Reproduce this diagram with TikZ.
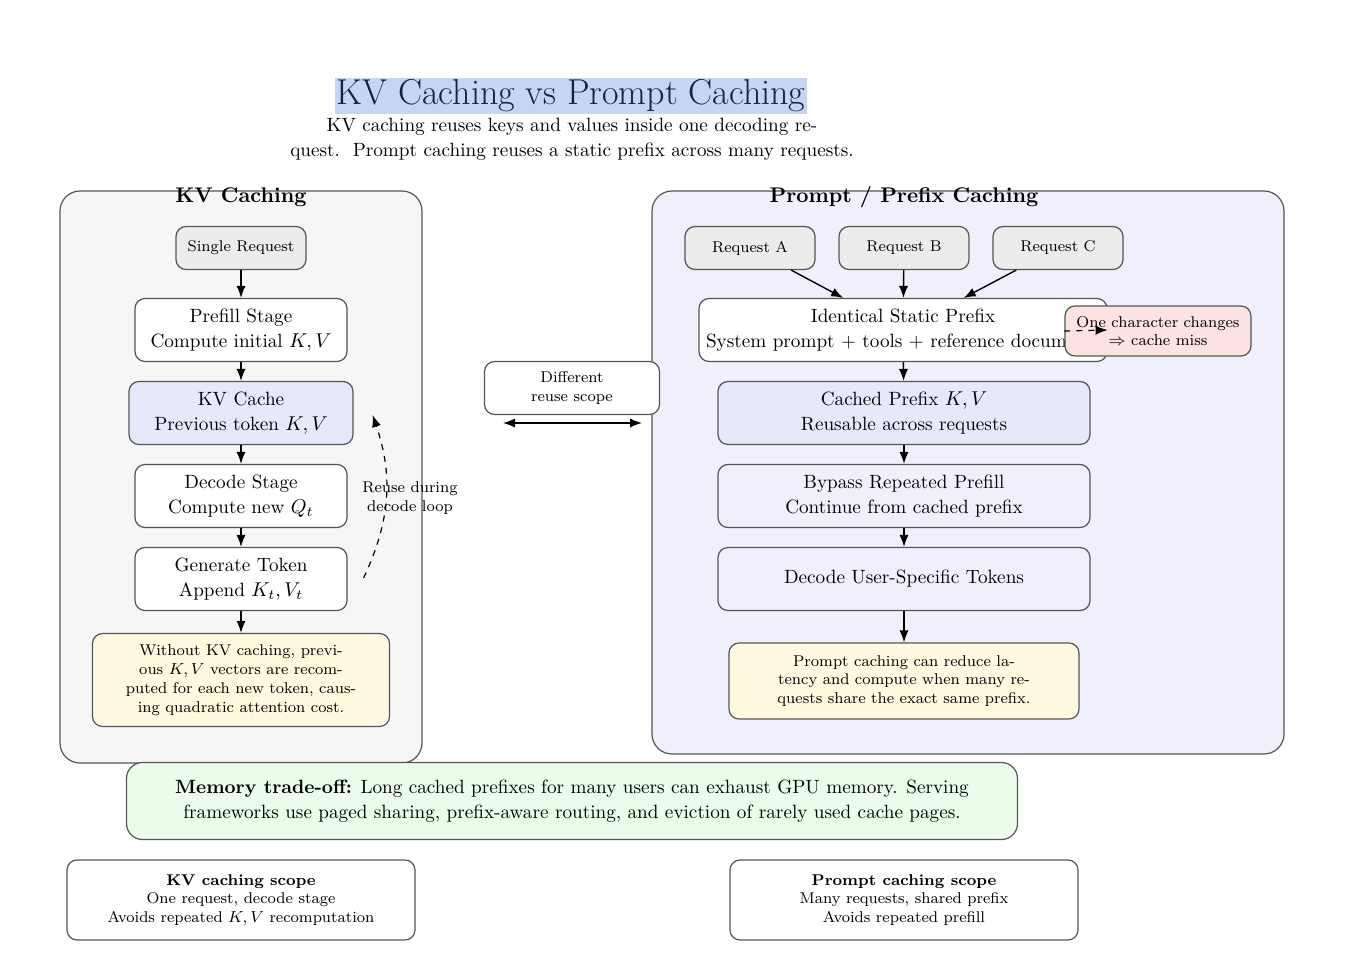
\documentclass[tikz,border=0pt]{standalone}
\usetikzlibrary{arrows.meta}
\definecolor{panelL}{HTML}{F6F6F6}
\definecolor{panelR}{HTML}{F0F0FC}
\definecolor{reqfill}{HTML}{ECECEC}
\definecolor{kvfill}{HTML}{E8E8FB}
\definecolor{notefill}{HTML}{FFFADF}
\definecolor{redfill}{HTML}{FDE2E2}
\definecolor{greenfill}{HTML}{EBFDEA}
\definecolor{hilite}{HTML}{C3D7F5}
\definecolor{titlecol}{HTML}{15233F}
\definecolor{edgecol}{HTML}{555555}
\newcommand\bodyfont{\fontsize{9.6}{12.5}\selectfont}
\newcommand\notefont{\fontsize{7.8}{9.4}\selectfont}
\tikzset{
  panel/.style={draw=edgecol, line width=0.6pt, rounded corners=10pt},
  paneltitle/.style={font=\fontsize{10.6}{12}\selectfont\bfseries, inner sep=1pt},
  box/.style={draw=edgecol, line width=0.6pt, rounded corners=5pt, align=center, minimum height=31.5pt},
  smallbox/.style={draw=edgecol, line width=0.6pt, rounded corners=5pt, align=center, font=\notefont, minimum width=65pt, minimum height=21.5pt, fill=reqfill},
  arr/.style={-{Latex[length=6pt,width=4.6pt]}, line width=0.7pt},
}
\begin{document}
\begin{tikzpicture}[x=0.5pt,y=-0.5pt,font=\bodyfont]
\useasboundingbox (0,0) rectangle (1362,980);

% title
\node[fill=hilite, text=titlecol, font=\fontsize{18}{21}\selectfont, minimum width=234pt, minimum height=17.5pt, inner sep=1pt] (title) at (571,96) {KV Caching vs Prompt Caching};
\node[align=center] (subtitle) at (572,139) {KV caching reuses keys and values inside one decoding re-\\quest.\ \ Prompt caching reuses a static prefix across many requests.};

% panels
\node[panel, fill=panelL, minimum width=181pt, minimum height=286pt] (leftpanel) at (241,477) {};
\node[panel, fill=panelR, minimum width=316pt, minimum height=281.5pt] (rightpanel) at (968,472.5) {};
\node[paneltitle] (lefttitle) at (241,197) {KV Caching};
\node[paneltitle] (righttitle) at (904,197) {Prompt / Prefix Caching};

% left column
\node[smallbox] (single) at (241,248) {Single Request};
\node[box, fill=white, minimum width=106pt] (prefill) at (241,330) {Prefill Stage\\Compute initial $K,V$};
\node[box, fill=kvfill, minimum width=112pt] (kv) at (241,413) {KV Cache\\Previous token $K,V$};
\node[box, fill=white, minimum width=106pt] (decode) at (241,496) {Decode Stage\\Compute new $Q_t$};
\node[box, fill=white, minimum width=106pt] (gen) at (241,579) {Generate Token\\Append $K_t,V_t$};
\node[box, fill=notefill, font=\notefont, minimum width=148.5pt, minimum height=46.5pt] (noteL) at (241,680) {Without KV caching, previ-\\ous $K,V$ vectors are recom-\\puted for each new token, caus-\\ing quadratic attention cost.};

\draw[arr] (single) -- (prefill);
\draw[arr] (prefill) -- (kv);
\draw[arr] (kv) -- (decode);
\draw[arr] (decode) -- (gen);
\draw[arr] (gen) -- (noteL);

\draw[arr, dashed, line width=0.6pt] ([xshift=8pt,yshift=0.5pt]gen.east) to[bend right=22] ([xshift=9.5pt,yshift=-1pt]kv.east);
\node[font=\notefont, align=center, inner sep=0pt] (reuselbl) at (410,498) {Reuse during\\decode loop};

% middle
\node[box, fill=white, font=\notefont, minimum width=87.5pt, minimum height=26.5pt] (diff) at (572,388) {Different\\reuse scope};
\coordinate (scopeA) at (503,423);
\coordinate (scopeB) at (642,423);
\draw[{Latex[length=6pt,width=4.6pt]}-{Latex[length=6pt,width=4.6pt]}, line width=0.7pt] (scopeA) -- (scopeB);

% right column
\node[smallbox] (reqA) at (750,248) {Request A};
\node[smallbox] (reqB) at (904,248) {Request B};
\node[smallbox] (reqC) at (1058,248) {Request C};
\node[box, fill=white, minimum width=204pt, text width=197pt] (prefix) at (903,330) {Identical Static Prefix\\\mbox{System prompt + tools + reference documents}};
\node[box, fill=kvfill, minimum width=186pt] (cached) at (904,413) {Cached Prefix $K,V$\\Reusable across requests};
\node[box, fill=panelR, minimum width=186pt] (bypass) at (904,496) {Bypass Repeated Prefill\\Continue from cached prefix};
\node[box, fill=panelR, minimum width=186pt] (dus) at (904,579) {Decode User-Specific Tokens};
\node[box, fill=notefill, font=\notefont, minimum width=175pt, minimum height=38pt] (noteR) at (904,681) {Prompt caching can reduce la-\\tency and compute when many re-\\quests share the exact same prefix.};
\node[box, fill=redfill, font=\notefont, minimum width=93pt, minimum height=25pt, inner sep=2pt] (redn) at (1158,331) {One character changes\\$\Rightarrow$ cache miss};

\draw[arr] (reqA) -- (prefix);
\draw[arr] (reqB) -- (prefix);
\draw[arr] (reqC) -- (prefix);
\draw[arr] (prefix) -- (cached);
\draw[arr] (cached) -- (bypass);
\draw[arr] (bypass) -- (dus);
\draw[arr] (dus) -- (noteR);
\draw[arr, dashed, line width=0.6pt] (redn.west) -- (prefix.east);

% memory box
\node[box, fill=greenfill, minimum width=445.5pt, minimum height=38.5pt, rounded corners=8pt] (memory) at (572,801) {\textbf{Memory trade-off:} Long cached prefixes for many users can exhaust GPU memory. Serving\\frameworks use paged sharing, prefix-aware routing, and eviction of rarely used cache pages.};

% scope boxes
\node[box, fill=white, font=\notefont, minimum width=174pt, minimum height=40pt] (scopeL) at (241,900) {\textbf{KV caching scope}\\One request, decode stage\\Avoids repeated $K,V$ recomputation};
\node[box, fill=white, font=\notefont, minimum width=174pt, minimum height=40pt] (scopeR) at (904,900) {\textbf{Prompt caching scope}\\Many requests, shared prefix\\Avoids repeated prefill};
\end{tikzpicture}
\end{document}
